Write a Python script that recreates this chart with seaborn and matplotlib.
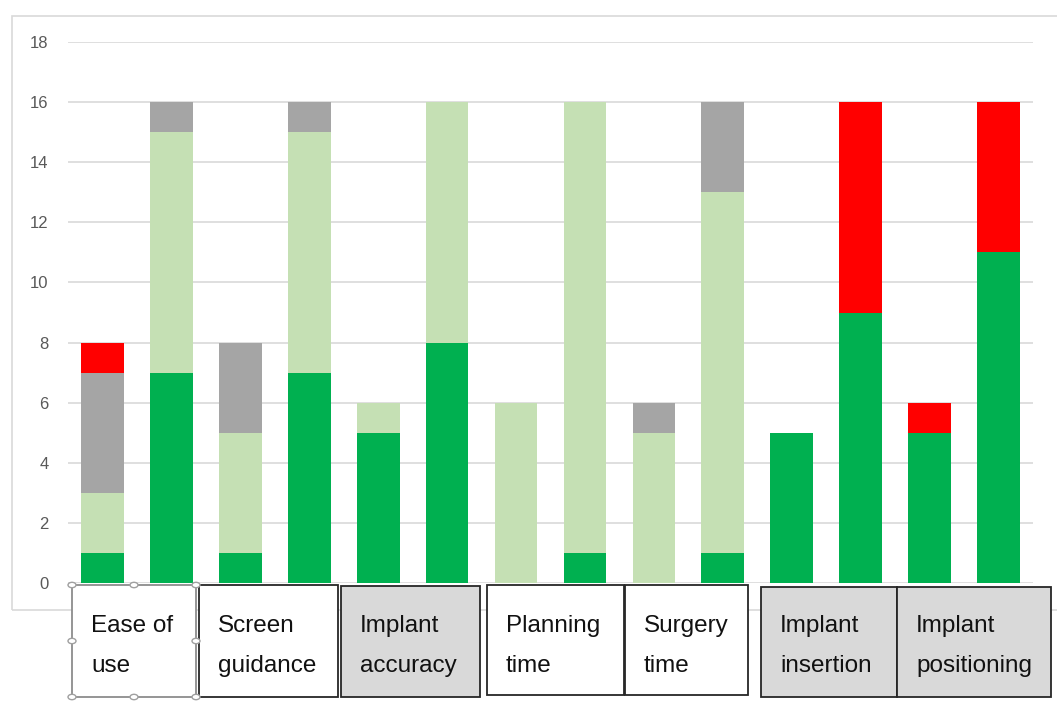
import numpy as np
import pandas as pd
import seaborn as sns
import matplotlib.pyplot as plt
from matplotlib.patches import Rectangle, Circle

# two bars per category, stacked bottom -> top
categories = ["Ease of\nuse", "Screen\nguidance", "Implant\naccuracy", "Planning\ntime",
              "Surgery\ntime", "Implant\ninsertion", "Implant\npositioning"]
box_shaded = [False, False, True, False, False, True, True]
dark_green = [1, 7, 1, 7, 5, 8, 0, 1, 0, 1, 5, 9, 5, 11]
light_green = [2, 8, 4, 8, 1, 8, 6, 15, 5, 12, 0, 0, 0, 0]
grey = [4, 1, 3, 1, 0, 0, 0, 0, 1, 3, 0, 0, 0, 0]
red = [1, 0, 0, 0, 0, 0, 0, 0, 0, 0, 0, 7, 1, 5]

df = pd.DataFrame({"bar": [f"b{i}" for i in range(len(dark_green))],
                   "dark": dark_green, "light": light_green, "grey": grey, "red": red})
df["c1"] = df["dark"]
df["c2"] = df["c1"] + df["light"]
df["c3"] = df["c2"] + df["grey"]
df["c4"] = df["c3"] + df["red"]

sns.set_style("white")
plt.rcParams["font.family"] = ["Liberation Sans", "DejaVu Sans"]

W, H = 1057, 709
fig = plt.figure(figsize=(W / 100, H / 100), dpi=100)

def fx(x):
    return x / W

def fy(y):
    return 1 - y / H

# chart area border
fig.patches.append(Rectangle((fx(12), fy(610)), fx(1060) - fx(12), fy(16) - fy(610),
                             transform=fig.transFigure, fill=False, ec="#d9d9d9", lw=1.2))

ax = fig.add_axes([fx(68), fy(583), fx(1033) - fx(68), fy(42) - fy(583)])
layers = [("c4", "#ff0000"), ("c3", "#a5a5a5"), ("c2", "#c5e0b4"), ("c1", "#00b050")]
for col, colr in layers:
    sns.barplot(data=df, x="bar", y=col, color=colr, saturation=1, width=0.62, ax=ax,
                errorbar=None, linewidth=0, zorder=3)

ax.set_xlim(-0.5, len(df) - 0.5)
ax.set_ylim(0, 18)
ax.set_yticks(np.arange(0, 19, 2))
ax.yaxis.grid(True, color="#d9d9d9", lw=1.2, zorder=0)
ax.set_axisbelow(True)
ax.set_xticks([])
ax.set_xlabel("")
ax.set_ylabel("")
ax.tick_params(axis="y", length=0, pad=14, labelsize=12, labelcolor="#595959")
for s in ax.spines.values():
    s.set_visible(False)

# category label boxes below the axis
boxes = [(72, 196, 585, 697), (199, 338, 585, 697), (341, 480, 586, 697),
         (487, 624, 585, 695), (625, 748, 585, 695), (761, 897, 587, 697), (897, 1051, 587, 697)]
for (x0, x1, y0, y1), lab, shade in zip(boxes, categories, box_shaded):
    fig.patches.append(Rectangle((fx(x0), fy(y1)), fx(x1) - fx(x0), fy(y0) - fy(y1),
                                 transform=fig.transFigure, fc="#d9d9d9" if shade else "white",
                                 ec="#8c8c8c" if x0 == 72 else "#262626", lw=1.3, zorder=2))
    l1, l2 = lab.split("\n")
    fig.text(fx(x0 + 19), fy(626), l1, fontsize=17.5, color="#111111", va="center", ha="left")
    fig.text(fx(x0 + 19), fy(666), l2, fontsize=17.5, color="#111111", va="center", ha="left")

# selection handles of the first box
for hx in (72, 134, 196):
    for hy in (585, 641, 697):
        if hx == 134 and hy == 641:
            continue
        fig.patches.append(Circle((fx(hx), fy(hy)), 4 / W, transform=fig.transFigure,
                                  fc="white", ec="#a0a0a0", lw=1, zorder=4))

fig.savefig("out.png", dpi=100, facecolor="white")
